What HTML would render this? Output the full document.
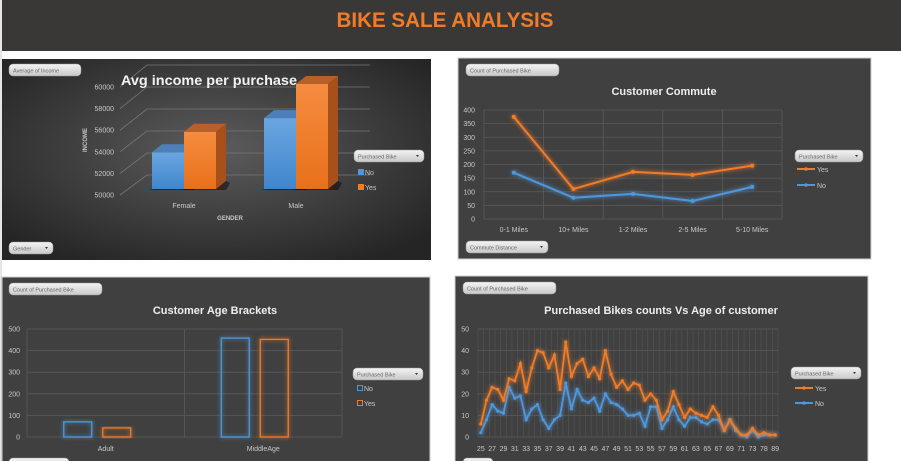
<!DOCTYPE html>
<html><head><meta charset="utf-8"><style>
html,body{margin:0;padding:0;background:#fff;width:901px;height:461px;overflow:hidden}
svg{display:block;font-family:"Liberation Sans",sans-serif}
</style></head><body>
<svg id="s" width="901" height="461" viewBox="0 0 901 461">
<defs>
<radialGradient id="g1" cx="50%" cy="45%" r="65%"><stop offset="0" stop-color="#5c5c5c"/><stop offset="1" stop-color="#252525"/></radialGradient>
<linearGradient id="btn" x1="0" y1="0" x2="0" y2="1"><stop offset="0" stop-color="#f4f4f4"/><stop offset="1" stop-color="#c8c8c8"/></linearGradient>
<linearGradient id="bf" x1="0" y1="0" x2="0" y2="1"><stop offset="0" stop-color="#6aa6e0"/><stop offset="1" stop-color="#3f86cc"/></linearGradient>
<linearGradient id="of" x1="0" y1="0" x2="0" y2="1"><stop offset="0" stop-color="#f58c40"/><stop offset="1" stop-color="#e8701a"/></linearGradient>
<filter id="glow" x="-20%" y="-20%" width="140%" height="140%"><feGaussianBlur stdDeviation="2.2" result="b"/><feMerge><feMergeNode in="b"/><feMergeNode in="SourceGraphic"/></feMerge></filter>
</defs>
<rect x="0" y="0" width="901" height="461" fill="#fff"/>
<line x1="1" y1="0" x2="1" y2="461" stroke="#ccc"/>
<rect x="2" y="0" width="899" height="51" fill="#3a3836"/>
<text x="445" y="27" text-anchor="middle" font-size="21" font-weight="bold" fill="#f07c2a" textLength="217" lengthAdjust="spacingAndGlyphs">BIKE SALE ANALYSIS</text>

<rect x="2" y="59" width="429" height="201" fill="url(#g1)"/>
<rect x="458" y="58" width="413" height="201" fill="#404040" stroke="#cfcfcf"/>
<rect x="2" y="277" width="428" height="190" fill="#404040" stroke="#cfcfcf"/>
<rect x="455" y="276" width="413" height="190" fill="#404040" stroke="#cfcfcf"/>
<g id="c1"></g><g id="c2"></g><g id="c3"></g><g id="c4"></g><g id="ui"></g>
</svg>
<script>
// ---- data ----
const incomeCats = ["Female","Male"];
const incomeNo = [53500, 56750];
const incomeYes = [55450, 60000];
const incomeTicks = [50000,52000,54000,56000,58000,60000];

const commuteCats = ["0-1 Miles","10+ Miles","1-2 Miles","2-5 Miles","5-10 Miles"];
const commuteYes = [375,110,173,162,196];
const commuteNo = [170,78,92,66,118];
const commuteTicks = [0,50,100,150,200,250,300,350,400];

const bracketCats = ["Adult","MiddleAge"];
const bracketNo = [70,458];
const bracketYes = [42,452];
const bracketTicks = [0,100,200,300,400,500];

const ageCats = [25,26,27,28,29,30,31,32,33,34,35,36,37,38,39,40,41,42,43,44,45,46,47,48,49,50,51,52,53,54,55,56,57,58,59,60,61,62,63,64,65,66,67,68,69,70,71,72,73,74,78,80,89];
const ageYes = [6,17,23,22,17,27,26,34,21,32,40,39,32,38,22,44,28,34,36,28,32,27,40,29,23,26,22,25,24,17,20,17,8,12,21,15,9,13,11,10,9,14,10,3,8,4,1,1,4,1,2,1,1];
const ageNo = [2,8,15,12,11,23,18,19,8,13,15,8,4,8,10,25,13,22,17,16,18,12,20,16,15,13,10,10,11,5,14,14,4,8,14,8,5,9,9,7,6,8,8,3,8,3,1,0,3,0,1,1,1];
const ageTicks = [0,10,20,30,40,50];

const NS="http://www.w3.org/2000/svg";
function mk(tag,attrs,parent,txt){const e=document.createElementNS(NS,tag);for(const k in attrs)e.setAttribute(k,attrs[k]);if(txt!==undefined)e.textContent=txt;parent.appendChild(e);return e;}
const BLUE="#4f97dc", ORANGE="#f07c2a", LBL="#c8c8c8", GRID="#5a5a5a";

// ---- UI buttons / legends ----
const ui=document.getElementById('ui');
function button(x,y,w,label,arrow,name){
  const g=mk('g',{},ui);
  
  
  mk('rect',{x:x,y:y,width:w,height:12,rx:4,fill:'url(#btn)',stroke:'#999','stroke-width':0.5},g);
  mk('text',{x:x+4,y:y+8.5,'font-size':5.5,fill:'#666'},g,label);
  if(arrow) mk('path',{d:`M${x+w-8} ${y+5} l3 0 l-1.5 2 z`,fill:'#333'},g);
}
function legendEntry(parent,x,y,color,label,kind,name){
  const g=mk('g',{},parent);
  
  
  if(kind==='sq') mk('rect',{x:x,y:y-6,width:6,height:6,fill:color},g);
  else if(kind==='hollow') mk('rect',{x:x+0.5,y:y-5.5,width:5,height:5,fill:'none',stroke:color,'stroke-width':1},g);
  else {mk('line',{x1:x,y1:y-3,x2:x+18,y2:y-3,stroke:color,'stroke-width':2},g);mk('circle',{cx:x+9,cy:y-3,r:1.8,fill:color},g);}
  mk('text',{x:x+(kind==='line'?20:7),y:y,'font-size':7,fill:LBL},g,label);
}
button(9,64,72,"Average of Income",false,"average-of-income-field-button");
button(9,242,44,"Gender",true,"gender-filter-button");
button(354,150,70,"Purchased Bike",true,"income-legend-filter-button");
button(466,64,93,"Count of Purchased Bike",false,"commute-value-field-button");
button(466,241,82,"Commute Distance",true,"commute-distance-filter-button");
button(795,150,68,"Purchased Bike",true,"commute-legend-filter-button");
button(9,283,93,"Count of Purchased Bike",false,"bracket-value-field-button");
button(353,368,70,"Purchased Bike",true,"bracket-legend-filter-button");
button(9,458,60,"",false,"bracket-axis-filter-button");
button(463,282,93,"Count of Purchased Bike",false,"age-value-field-button");
button(791,367,70,"Purchased Bike",true,"age-legend-filter-button");
button(463,458,30,"",false,"age-axis-filter-button");

// ---- Chart 1: 3D column ----
(function(){
  const c=document.getElementById('c1');
  const backY=v=>175-(v-50000)/2000*22;
  const frontY=v=>195-(v-50000)/2000*21.6;
  incomeTicks.forEach(t=>{
    const gl=mk('path',{d:`M120 ${frontY(t)} L147 ${backY(t)} L370 ${backY(t)}`,stroke:'#777',fill:'none','stroke-width':0.8},c);
    
    
    const tl=mk('text',{x:114,y:frontY(t)+2.5,'text-anchor':'end','font-size':7,fill:LBL},c,String(t));
    
    
  });
  const barY=v=>189-(v-50000)/1000*10.5;
  const groupX=i=>152+i*112;
  const bw=32, dx=10, dy=8;
  function bar3d(x,v,front,top,side,name){
    const g=mk('g',{},c);
    
    
    const y=barY(v), b=189;
    mk('path',{d:`M${x-3} ${b+1} L${x+bw+dx} ${b+1} L${x+bw+dx+4} ${b-dy+2} L${x+bw+dx} ${b-dy} Z`,fill:'rgba(0,0,0,0.45)'},g);
    mk('rect',{x:x,y:y,width:bw,height:b-y,fill:front},g);
    mk('path',{d:`M${x} ${y} L${x+dx} ${y-dy} L${x+bw+dx} ${y-dy} L${x+bw} ${y} Z`,fill:top},g);
    mk('path',{d:`M${x+bw} ${y} L${x+bw+dx} ${y-dy} L${x+bw+dx} ${b-dy} L${x+bw} ${b} Z`,fill:side},g);
  }
  incomeCats.forEach((cat,i)=>{
    bar3d(groupX(i),incomeNo[i],'url(#bf)','#4d7fb8','#3a6fa8','income-bar-no-'+cat.toLowerCase());
    bar3d(groupX(i)+bw,incomeYes[i],'url(#of)','#b8602a','#a8501a','income-bar-yes-'+cat.toLowerCase());
    const xl=mk('text',{x:groupX(i)+bw,y:208,'text-anchor':'middle','font-size':7,fill:LBL},c,cat);
    
    
  });
  const t=mk('text',{x:209,y:85,'text-anchor':'middle','font-size':14,'font-weight':'bold',fill:'#f2f2f2',textLength:176,lengthAdjust:'spacingAndGlyphs'},c,"Avg income per purchase");
  
  
  const xt=mk('text',{x:230,y:220,'text-anchor':'middle','font-size':6,'font-weight':'bold',fill:LBL},c,"GENDER");
  
  
  const yt=mk('text',{x:0,y:0,'text-anchor':'middle','font-size':6,'font-weight':'bold',fill:LBL,transform:'translate(87,140) rotate(-90)'},c,"INCOME");
  
  
  legendEntry(c,358,175,BLUE,"No",'sq','income-legend-no');
  legendEntry(c,358,190,ORANGE,"Yes",'sq','income-legend-yes');
})();

// ---- Chart 2: commute lines ----
(function(){
  const c=document.getElementById('c2');
  const x0=484,x1=782,y0=219,y1=110;
  const Y=v=>y0-(v-0)/400*(y0-y1);
  const step=(x1-x0)/commuteCats.length;
  const X=i=>x0+step*(i+0.5);
  commuteTicks.forEach(t=>{
    const l=mk('line',{x1:x0,x2:x1,y1:Y(t),y2:Y(t),stroke:GRID,'stroke-width':0.8},c);
    
    
    const tl=mk('text',{x:475,y:Y(t)+2.5,'text-anchor':'end','font-size':7,fill:LBL},c,t);
    
    
  });
  for(let i=0;i<=commuteCats.length;i++){
    const l=mk('line',{x1:x0+step*i,x2:x0+step*i,y1:y1,y2:y0,stroke:GRID,'stroke-width':0.8},c);
    
    
  }
  commuteCats.forEach((cat,i)=>{
    const tl=mk('text',{x:X(i),y:232,'text-anchor':'middle','font-size':7,fill:LBL},c,cat);
    
    
  });
  function series(vals,color,name){
    const g=mk('g',{filter:'url(#glow)'},c);
    
    
    mk('polyline',{points:vals.map((v,i)=>X(i)+','+Y(v)).join(' '),fill:'none',stroke:color,'stroke-width':2},g);
    vals.forEach((v,i)=>{const p=mk('circle',{cx:X(i),cy:Y(v),r:2,fill:color},g);
      
      });
  }
  series(commuteNo,BLUE,'commute-line-no');
  series(commuteYes,ORANGE,'commute-line-yes');
  const t=mk('text',{x:664,y:95,'text-anchor':'middle','font-size':11,'font-weight':'bold',fill:'#eee'},c,"Customer Commute");
  
  
  legendEntry(c,797,172,ORANGE,"Yes",'line','commute-legend-yes');
  legendEntry(c,797,188,BLUE,"No",'line','commute-legend-no');
})();

// ---- Chart 3: age brackets ----
(function(){
  const c=document.getElementById('c3');
  const x0=27,x1=342,y0=437,y1=329;
  const Y=v=>y0-v/500*(y0-y1);
  const step=(x1-x0)/bracketCats.length;
  bracketTicks.forEach(t=>{
    const l=mk('line',{x1:x0,x2:x1,y1:Y(t),y2:Y(t),stroke:GRID,'stroke-width':0.8},c);
    
    
    const tl=mk('text',{x:20,y:Y(t)+2.5,'text-anchor':'end','font-size':7,fill:LBL},c,t);
    
    
  });
  for(let i=0;i<=bracketCats.length;i++){
    const l=mk('line',{x1:x0+step*i,x2:x0+step*i,y1:y1,y2:y0,stroke:GRID,'stroke-width':0.8},c);
    
    
  }
  const bw=28;
  bracketCats.forEach((cat,i)=>{
    const cx=x0+step*(i+0.5);
    const bn=mk('rect',{x:cx-42,y:Y(bracketNo[i]),width:bw,height:y0-Y(bracketNo[i]),fill:'none',stroke:BLUE,'stroke-width':1.3,filter:'url(#glow)'},c);
    
    
    const by=mk('rect',{x:cx-3,y:Y(bracketYes[i]),width:bw,height:y0-Y(bracketYes[i]),fill:'none',stroke:ORANGE,'stroke-width':1.3,filter:'url(#glow)'},c);
    
    
    const tl=mk('text',{x:cx,y:451,'text-anchor':'middle','font-size':7,fill:LBL},c,cat);
    
    
  });
  const t=mk('text',{x:215,y:314,'text-anchor':'middle','font-size':11,'font-weight':'bold',fill:'#eee'},c,"Customer Age Brackets");
  
  
  legendEntry(c,357,391,BLUE,"No",'hollow','bracket-legend-no');
  legendEntry(c,357,406,ORANGE,"Yes",'hollow','bracket-legend-yes');
})();

// ---- Chart 4: counts vs age ----
(function(){
  const c=document.getElementById('c4');
  const x0=478,x1=778,y0=437,y1=329;
  const Y=v=>y0-v/50*(y0-y1);
  const step=(x1-x0)/ageCats.length;
  const X=i=>x0+step*(i+0.5);
  ageTicks.forEach(t=>{
    const l=mk('line',{x1:x0,x2:x1,y1:Y(t),y2:Y(t),stroke:GRID,'stroke-width':0.8},c);
    
    
    const tl=mk('text',{x:469,y:Y(t)+2.5,'text-anchor':'end','font-size':7,fill:LBL},c,t);
    
    
  });
  for(let i=0;i<=ageCats.length;i++){
    const l=mk('line',{x1:x0+step*i,x2:x0+step*i,y1:y1,y2:y0,stroke:'#555','stroke-width':0.6},c);
    
    
  }
  ageCats.forEach((a,i)=>{
    if(i%2) return;
    const tl=mk('text',{x:X(i),y:451,'text-anchor':'middle','font-size':7,fill:LBL},c,a);
    
    
  });
  function series(vals,color,name){
    const g=mk('g',{filter:'url(#glow)'},c);
    
    
    mk('polyline',{points:vals.map((v,i)=>X(i)+','+Y(v)).join(' '),fill:'none',stroke:color,'stroke-width':1.8},g);
    vals.forEach((v,i)=>{const p=mk('circle',{cx:X(i),cy:Y(v),r:1.6,fill:color},g);
      
      });
  }
  series(ageNo,BLUE,'age-line-no');
  series(ageYes,ORANGE,'age-line-yes');
  const t=mk('text',{x:661,y:314,'text-anchor':'middle','font-size':11,'font-weight':'bold',fill:'#eee'},c,"Purchased Bikes counts Vs Age of customer");
  
  
  legendEntry(c,795,391,ORANGE,"Yes",'line','age-legend-yes');
  legendEntry(c,795,406,BLUE,"No",'line','age-legend-no');
})();
</script>
</body></html>
